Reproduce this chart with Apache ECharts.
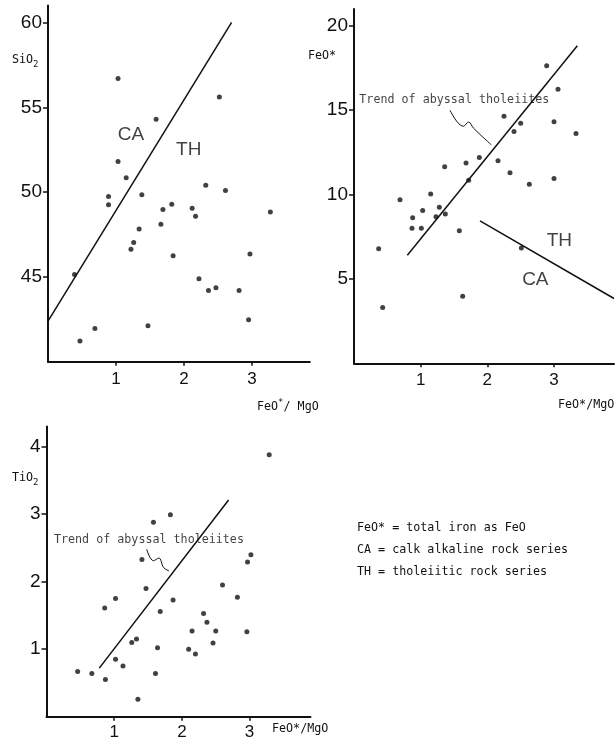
<!DOCTYPE html>
<html>
<head>
<meta charset="utf-8">
<title>FeO*/MgO variation diagrams</title>
<script src="https://cdn.jsdelivr.net/npm/echarts@6/dist/echarts.min.js"></script>
<style>html,body{margin:0;padding:0;background:#fff;}</style>
</head>
<body>
<div id="main" style="width:615px;height:739px;"></div>
<script>
// --- data (x = FeO*/MgO) ---
var xTicks = [1, 2, 3];

var sio2Ticks = [45, 50, 55, 60];
var sio2Points = [
  [1.03, 56.7], [2.52, 55.6], [1.59, 54.3], [1.03, 51.8], [1.15, 50.85], [2.32, 50.4],
  [2.61, 50.1], [0.89, 49.75], [1.38, 49.85], [0.89, 49.26], [1.69, 48.97], [1.82, 49.28],
  [1.66, 48.1], [2.12, 49.05], [2.17, 48.58], [3.27, 48.83], [1.34, 47.83], [1.26, 47.03],
  [1.22, 46.64], [1.84, 46.25], [2.97, 46.36], [0.39, 45.15], [2.22, 44.9], [2.47, 44.36],
  [2.36, 44.2], [2.81, 44.2], [2.95, 42.48], [1.47, 42.13], [0.69, 41.97], [0.47, 41.22]
];
var sio2Divider = [[0, 42.4], [2.70, 60]];
var sio2Regions = [['CA', 1.22, 53.4], ['TH', 2.07, 52.5]];

var feoTicks = [5, 10, 15, 20];
var feoPoints = [
  [2.89, 17.64], [3.06, 16.24], [2.25, 14.64], [2.50, 14.23], [2.40, 13.74], [3.0, 14.31],
  [3.33, 13.62], [1.88, 12.2], [2.16, 12.0], [1.68, 11.87], [1.36, 11.65], [2.34, 11.3],
  [2.63, 10.62], [3.0, 10.96], [1.72, 10.85], [0.69, 9.7], [1.15, 10.04], [1.03, 9.06],
  [1.28, 9.25], [0.88, 8.62], [1.37, 8.85], [1.23, 8.68], [0.87, 8.0], [1.01, 8.0],
  [1.58, 7.85], [0.37, 6.79], [2.51, 6.83], [1.63, 3.97], [0.43, 3.3]
];
var feoTrend = [[0.80, 6.41], [3.35, 18.82]];
var feoDivider = [[1.89, 8.44], [3.9, 3.84]];
var feoLeader = [[1.44, 15.0], [1.64, 14.05], [1.72, 14.3], [1.79, 13.95], [2.06, 12.95]];
var feoRegions = [['TH', 3.08, 7.26], ['CA', 2.72, 4.94]];
var feoTrendLabel = [0.08, 15.63];

var tio2Ticks = [1, 2, 3, 4];
var tio2Points = [
  [3.29, 3.88], [1.83, 2.99], [1.58, 2.88], [1.41, 2.33], [3.02, 2.40], [2.97, 2.29],
  [1.47, 1.90], [2.60, 1.95], [1.02, 1.75], [0.86, 1.61], [1.87, 1.73], [2.82, 1.77],
  [1.68, 1.56], [2.32, 1.53], [2.37, 1.40], [2.15, 1.27], [2.50, 1.27], [2.96, 1.26],
  [1.33, 1.15], [1.26, 1.10], [2.46, 1.09], [1.64, 1.02], [2.10, 1.0], [2.20, 0.93],
  [1.02, 0.85], [1.13, 0.75], [0.46, 0.67], [0.67, 0.64], [1.61, 0.64], [0.87, 0.55],
  [1.35, 0.26]
];
var tio2Trend = [[0.78, 0.72], [2.69, 3.21]];
var tio2Leader = [[1.48, 2.48], [1.58, 2.31], [1.66, 2.35], [1.73, 2.21], [1.81, 2.16]];
var tio2TrendLabel = [0.11, 2.62];

var notes = [
  'FeO* = total iron as FeO',
  'CA = calk alkaline rock series',
  'TH = tholeiitic rock series'
];

// --- styling helpers ---
var INK = '#111';
var MONO = 'DejaVu Sans Mono';
var SANS = 'Liberation Sans';

function xAxisFor(gi, max, margin) {
  return {
    type: 'value', gridIndex: gi, min: 0, max: max, interval: 1,
    axisLine: {show: true, onZero: false, lineStyle: {color: INK, width: 2}},
    axisTick: {show: true, customValues: xTicks, length: 4, lineStyle: {color: INK, width: 1.5}},
    axisLabel: {customValues: xTicks, color: INK, fontSize: 17, fontFamily: SANS, margin: margin},
    splitLine: {show: false}
  };
}
function yAxisFor(gi, min, max, interval, ticks) {
  return {
    type: 'value', gridIndex: gi, min: min, max: max, interval: interval,
    axisLine: {show: true, onZero: false, lineStyle: {color: INK, width: 2}},
    axisTick: {show: true, customValues: ticks, length: 5, lineStyle: {color: INK, width: 1.5}},
    axisLabel: {customValues: ticks, color: INK, fontSize: 19, fontFamily: SANS, margin: 6},
    splitLine: {show: false}
  };
}
function dots(gi, pts) {
  return {type: 'scatter', xAxisIndex: gi, yAxisIndex: gi, data: pts, symbolSize: 5,
          itemStyle: {color: INK}, silent: true};
}
function stroke(gi, pts, smooth) {
  return {type: 'line', xAxisIndex: gi, yAxisIndex: gi, data: pts, showSymbol: false,
          smooth: smooth ? 0.4 : false, lineStyle: {color: INK, width: smooth ? 1 : 1.5}, silent: true};
}
function tags(gi, list) {
  return {
    type: 'scatter', xAxisIndex: gi, yAxisIndex: gi, symbolSize: 0, silent: true,
    data: list.map(function (r) { return {name: r[0], value: [r[1], r[2]]}; }),
    label: {show: true, position: 'inside', formatter: '{b}', color: INK, fontSize: 19, fontFamily: SANS}
  };
}
function trendText(gi, at) {
  return {
    type: 'scatter', xAxisIndex: gi, yAxisIndex: gi, symbolSize: 0, silent: true,
    data: [{name: 'Trend of abyssal tholeiites', value: at}],
    label: {show: true, position: 'right', distance: 0, formatter: '{b}', color: INK,
            fontSize: 11.7, fontFamily: MONO}
  };
}
var sub = {s: {fontSize: 9, fontFamily: MONO, padding: [9, 0, 0, 0], fill: INK}};
var sup = {u: {fontSize: 9, fontFamily: MONO, padding: [0, 0, 8, 0], fill: INK}};
function note(left, top, text, rich) {
  return {type: 'text', left: left, top: top, silent: true,
          style: {text: text, fill: INK, fontSize: 11.7, fontFamily: MONO, rich: rich || {}}};
}

var chart = echarts.init(document.getElementById('main'), null, {renderer: 'canvas'});
chart.setOption({
  backgroundColor: '#fff',
  animation: false,
  grid: [
    {left: 48, top: 5.5, width: 261.8, height: 356.3, outerBoundsMode: 'none'},
    {left: 354, top: 9, width: 260, height: 354.3, outerBoundsMode: 'none'},
    {left: 46.5, top: 426.4, width: 264, height: 290.3, outerBoundsMode: 'none'}
  ],
  xAxis: [xAxisFor(0, 3.85, 9), xAxisFor(1, 3.9, 9), xAxisFor(2, 3.9, 7)],
  yAxis: [
    yAxisFor(0, 40, 61, 5, sio2Ticks),
    yAxisFor(1, 0, 21, 5, feoTicks),
    yAxisFor(2, 0, 4.3, 1, tio2Ticks)
  ],
  series: [
    dots(0, sio2Points), stroke(0, sio2Divider), tags(0, sio2Regions),
    dots(1, feoPoints), stroke(1, feoTrend), stroke(1, feoDivider), stroke(1, feoLeader, true),
    tags(1, feoRegions), trendText(1, feoTrendLabel),
    dots(2, tio2Points), stroke(2, tio2Trend), stroke(2, tio2Leader, true), trendText(2, tio2TrendLabel)
  ],
  graphic: [
    note(12, 54, 'SiO{s|2}', sub),
    note(308, 50, 'FeO*'),
    note(12, 472, 'TiO{s|2}', sub),
    note(257, 398, 'FeO{u|*}/ MgO', sup),
    note(558, 399, 'FeO*/MgO'),
    note(272, 723, 'FeO*/MgO'),
    note(357, 522, notes[0]),
    note(357, 544, notes[1]),
    note(357, 566, notes[2])
  ]
});
</script>
</body>
</html>
